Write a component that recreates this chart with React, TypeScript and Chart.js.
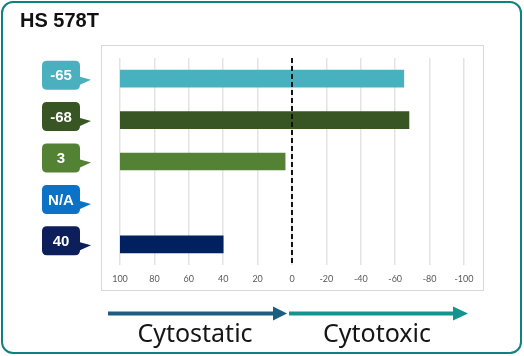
import React, { useEffect, useRef } from "react";
import { Chart, registerables } from "chart.js";
Chart.register(...registerables);

const title = "HS 578T";
const badgeLabels = ["-65", "-68", "3", "N/A", "40"];
const values: (number | null)[] = [-65, -68, 4, null, 40];
const barStart = 100;
const barColors = ["#48b1bf", "#375623", "#548235", "#0b72c6", "#002060"];
const badgeColors = ["#4bb0be", "#375623", "#548235", "#0b72c6", "#0c1f5a"];
const xTicks = [100, 80, 60, 40, 20, 0, -20, -40, -60, -80, -100];
const leftCaption = "Cytostatic";
const rightCaption = "Cytotoxic";

const framePlugin = {
  id: "frame",
  beforeDraw(chart: any) {
    const ctx = chart.ctx;
    ctx.save();
    ctx.strokeStyle = "#d9d9d9";
    ctx.lineWidth = 1;
    ctx.strokeRect(101.5, 45.5, 382, 245);
    ctx.restore();
  },
};

const zeroLinePlugin = {
  id: "zeroLine",
  afterDatasetsDraw(chart: any) {
    const ctx = chart.ctx;
    const x = chart.scales.x.getPixelForValue(0);
    const { top, bottom } = chart.chartArea;
    ctx.save();
    ctx.strokeStyle = "#111111";
    ctx.lineWidth = 2;
    ctx.setLineDash([5, 3]);
    ctx.beginPath();
    ctx.moveTo(Math.round(x), top);
    ctx.lineTo(Math.round(x), bottom);
    ctx.stroke();
    ctx.restore();
  },
};

const badgePlugin = {
  id: "badges",
  afterDraw(chart: any) {
    const ctx = chart.ctx;
    const ys = chart.scales.y;
    badgeLabels.forEach((lab, i) => {
      const tipY = ys.getPixelForValue(i) + 1;
      const left = 42;
      const right = 80;
      const top = tipY - 19;
      const h = 29;
      const r = 5;
      ctx.save();
      ctx.fillStyle = badgeColors[i];
      ctx.beginPath();
      ctx.moveTo(left + r, top);
      ctx.lineTo(right - r, top);
      ctx.quadraticCurveTo(right, top, right, top + r);
      ctx.lineTo(right, tipY - 3);
      ctx.lineTo(91, tipY);
      ctx.lineTo(right, tipY + 5);
      ctx.lineTo(right, top + h - r);
      ctx.quadraticCurveTo(right, top + h, right - r, top + h);
      ctx.lineTo(left + r, top + h);
      ctx.quadraticCurveTo(left, top + h, left, top + h - r);
      ctx.lineTo(left, top + r);
      ctx.quadraticCurveTo(left, top, left + r, top);
      ctx.closePath();
      ctx.fill();
      ctx.fillStyle = "#ffffff";
      ctx.font = "bold 15px 'Liberation Sans', Arial, sans-serif";
      ctx.textAlign = "center";
      ctx.textBaseline = "middle";
      ctx.fillText(lab, (left + right) / 2, top + h / 2 + 1);
      ctx.restore();
    });
  },
};

export default function App() {
  const ref = useRef<HTMLCanvasElement | null>(null);
  useEffect(() => {
    if (!ref.current) return;
    const chart = new Chart(ref.current, {
      type: "bar",
      data: {
        labels: badgeLabels,
        datasets: [
          {
            data: values.map((v) => (v === null ? null : [barStart, v])) as any,
            backgroundColor: barColors,
            barThickness: 17,
            borderWidth: 0,
          },
        ],
      },
      options: {
        indexAxis: "y",
        animation: false,
        responsive: false,
        maintainAspectRatio: false,
        layout: { padding: { left: 120, right: 60, top: 58, bottom: 65 } },
        plugins: { legend: { display: false }, tooltip: { enabled: false }, title: { display: false } },
        scales: {
          x: {
            type: "linear",
            reverse: true,
            min: -100,
            max: 100,
            afterBuildTicks(scale: any) {
              scale.ticks = xTicks.map((v) => ({ value: v }));
            },
            afterFit(scale: any) {
              scale.height = 26;
            },
            grid: { color: "#e3e3e3", lineWidth: 1.5, drawTicks: false },
            border: { display: false },
            ticks: {
              padding: 9,
              color: "#595959",
              font: { family: "Lato, 'Liberation Sans', sans-serif", size: 9 },
              callback: (v: any) => String(v),
            },
          },
          y: {
            type: "category",
            display: false,
            offset: true,
          },
        },
      },
      plugins: [framePlugin, zeroLinePlugin, badgePlugin],
    });
    return () => chart.destroy();
  }, []);

  const captionStyle: React.CSSProperties = {
    position: "absolute",
    top: 317,
    width: 200,
    textAlign: "center",
    fontFamily: "'Noto Sans', sans-serif",
    fontSize: 25,
    lineHeight: "30px",
    color: "#151515",
  };

  return (
    <div style={{ position: "fixed", left: 0, top: 0, width: 524, height: 356, background: "#ffffff", overflow: "hidden" }}>
      <canvas ref={ref} width={524} height={356} style={{ position: "absolute", left: 0, top: 0, width: 524, height: 356 }} />
      <div
        style={{
          position: "absolute",
          left: 1,
          top: 1,
          width: 521,
          height: 353,
          boxSizing: "border-box",
          border: "2.5px solid #12807e",
          borderRadius: 12,
          pointerEvents: "none",
        }}
      />
      <div
        style={{
          position: "absolute",
          left: 20,
          top: 8,
          fontFamily: "'Liberation Sans', Arial, sans-serif",
          fontWeight: "bold",
          fontSize: 20,
          lineHeight: "24px",
          color: "#111111",
        }}
      >
        {title}
      </div>
      <svg width={524} height={356} style={{ position: "absolute", left: 0, top: 0 }}>
        <line x1={108} y1={313.5} x2={275} y2={313.5} stroke="#1c5e80" strokeWidth={4} />
        <polygon points="273,306.5 287,313.5 273,320.5" fill="#1c5e80" />
        <line x1={289} y1={313.5} x2={455} y2={313.5} stroke="#149390" strokeWidth={4} />
        <polygon points="453,306.5 468,313.5 453,320.5" fill="#149390" />
      </svg>
      <div style={{ ...captionStyle, left: 95 }}>{leftCaption}</div>
      <div style={{ ...captionStyle, left: 277 }}>{rightCaption}</div>
    </div>
  );
}
